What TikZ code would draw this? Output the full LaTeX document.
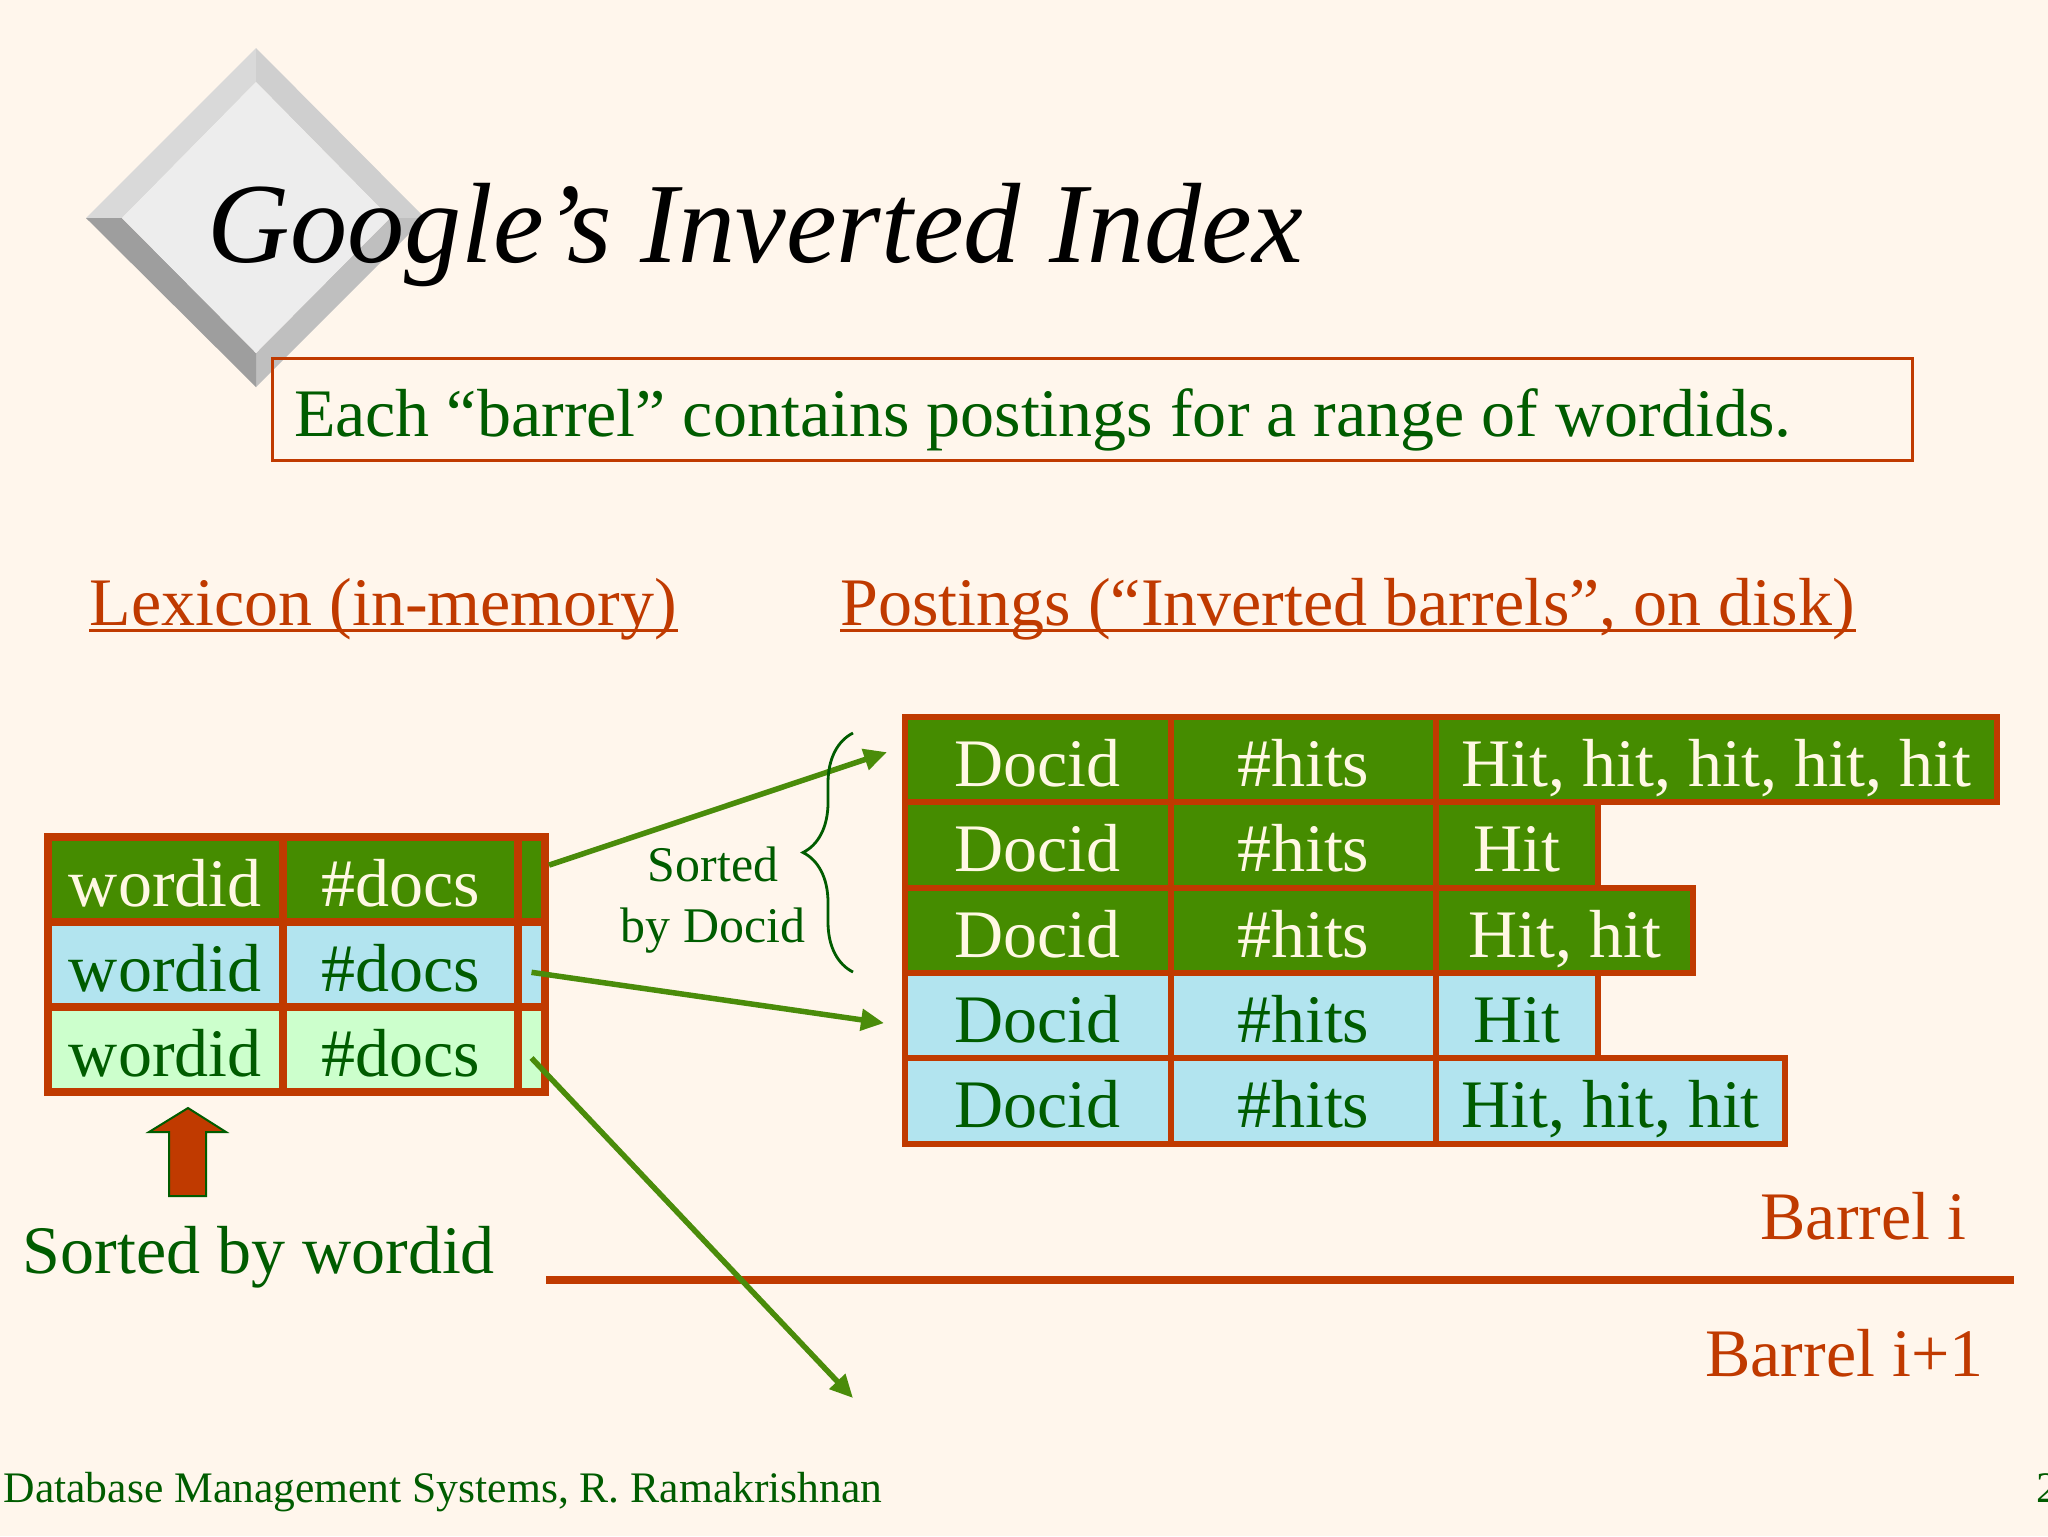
\documentclass[tikz,border=0pt]{standalone}
\usepackage{fontspec}
\setmainfont{Liberation Serif}
\usetikzlibrary{arrows.meta,decorations.pathreplacing}
\definecolor{bg}{HTML}{FFF6EC}
\definecolor{orb}{HTML}{C03A00}
\definecolor{dkg}{HTML}{005C00}
\definecolor{gfill}{HTML}{458C00}
\definecolor{lblue}{HTML}{B2E4EF}
\definecolor{lgreen}{HTML}{CCFFCC}
\definecolor{cream}{HTML}{FFF8E4}
\definecolor{arrowg}{HTML}{4A8C0A}
\newcommand\fsBig{\fontsize{19.35pt}{23pt}\selectfont}
\newcommand\fsTitle{\fontsize{32.5pt}{38pt}\selectfont\itshape}
\newcommand\fsSmall{\fontsize{14.2pt}{17.6pt}\selectfont}
\newcommand\fsFoot{\fontsize{12.4pt}{15pt}\selectfont}
\begin{document}
\begin{tikzpicture}[x=0.1mm,y=-0.1mm,
  txt/.style={inner sep=0pt,font=\fsBig},
  lcell/.style={draw=orb,line width=0.8mm,inner sep=0pt,minimum height=8.52mm,text height=15.3pt,text depth=0pt,font=\fsBig},
  dcell/.style={draw=orb,line width=0.6mm,inner sep=0pt,minimum height=8.53mm,text height=15.3pt,text depth=0pt,font=\fsBig},
  gcell/.style={fill=gfill,text=cream},
  bcell/.style={fill=lblue,text=dkg},
  lgcell/.style={fill=lgreen,text=dkg},
  ptr/.style={draw=arrowg,line width=0.55mm,-{Triangle[length=2.3mm,width=2.1mm]}},
]
% background
\useasboundingbox (0,0) rectangle (2048,1536);
\fill[bg] (0,0) rectangle (2048,1536);

% bevelled diamond
\fill[gray!30!white] (256,48) -- (256,82) -- (122,218) -- (86,218) -- cycle;
\fill[black!19] (256,48) -- (425,218) -- (390,218) -- (256,82) -- cycle;
\fill[black!25] (425,218) -- (256,387) -- (256,353) -- (390,218) -- cycle;
\fill[black!38] (86,218) -- (122,218) -- (256,353) -- (256,387) -- cycle;
\fill[black!7] (256,82) -- (390,218) -- (256,353) -- (122,218) -- cycle;

% title
\node[anchor=base west,inner sep=0pt,font=\fsTitle] (title) at (207,262) {Google’s Inverted Index};

% box
\node[draw=orb,line width=0.3mm,text=dkg,font=\fsBig,inner xsep=2.2mm,inner ysep=0pt,
      text width=159.6mm,align=flush left,minimum height=10.2mm,text height=15.9pt,text depth=0pt]
      (box) at (1092,409) {Each “barrel” contains postings for a range of wordids.};

% headings
\node[txt,anchor=base west,text=orb] (lex) at (89,625) {Lexicon (in-memory)};
\node[txt,anchor=base west,text=orb] (post) at (840,625) {Postings (“Inverted barrels”, on disk)};
\draw[orb,line width=0.3mm] ([yshift=-0.5mm]lex.base west) -- ([yshift=-0.5mm]lex.base east);
\draw[orb,line width=0.3mm] ([yshift=-0.5mm]post.base west) -- ([yshift=-0.5mm]post.base east);

% lexicon table
\node[lcell,gcell,minimum width=23.55mm] (l11) at (165.25,879.1) {wordid};
\node[lcell,gcell,minimum width=23.5mm] (l12) at (400.5,879.1) {\#docs};
\node[lcell,gcell,minimum width=2.7mm] (l13) at (531.5,879.1) {};
\node[lcell,bcell,minimum width=23.55mm] (l21) at (165.25,964.3) {wordid};
\node[lcell,bcell,minimum width=23.5mm] (l22) at (400.5,964.3) {\#docs};
\node[lcell,bcell,minimum width=2.7mm] (l23) at (531.5,964.3) {};
\node[lcell,lgcell,minimum width=23.55mm] (l31) at (165.25,1049.5) {wordid};
\node[lcell,lgcell,minimum width=23.5mm] (l32) at (400.5,1049.5) {\#docs};
\node[lcell,lgcell,minimum width=2.7mm] (l33) at (531.5,1049.5) {};

% postings table
\node[dcell,gcell,minimum width=26.55mm] (d11) at (1037.75,759.65) {Docid};
\node[dcell,gcell,minimum width=26.55mm] (d12) at (1303.25,759.65) {\#hits};
\node[dcell,gcell,minimum width=56.1mm] (d13) at (1716.5,759.65) {Hit, hit, hit, hit, hit};
\node[dcell,gcell,minimum width=26.55mm] (d21) at (1037.75,844.95) {Docid};
\node[dcell,gcell,minimum width=26.55mm] (d22) at (1303.25,844.95) {\#hits};
\node[dcell,gcell,minimum width=16.2mm] (d23) at (1517,844.95) {Hit};
\node[dcell,gcell,minimum width=26.55mm] (d31) at (1037.75,930.25) {Docid};
\node[dcell,gcell,minimum width=26.55mm] (d32) at (1303.25,930.25) {\#hits};
\node[dcell,gcell,minimum width=25.7mm] (d33) at (1564.5,930.25) {Hit, hit};
\node[dcell,bcell,minimum width=26.55mm] (d41) at (1037.75,1015.55) {Docid};
\node[dcell,bcell,minimum width=26.55mm] (d42) at (1303.25,1015.55) {\#hits};
\node[dcell,bcell,minimum width=16.2mm] (d43) at (1517,1015.55) {Hit};
\node[dcell,bcell,minimum width=26.55mm] (d51) at (1037.75,1100.85) {Docid};
\node[dcell,bcell,minimum width=26.55mm] (d52) at (1303.25,1100.85) {\#hits};
\node[dcell,bcell,minimum width=34.9mm] (d53) at (1610.5,1100.85) {Hit, hit, hit};

% barrel separator and labels
\coordinate (sepL) at (546,1280);
\coordinate (sepR) at (2014,1280);
\draw[orb,line width=0.8mm] (sepL) -- (sepR);
\node[txt,anchor=base east,text=orb] (bari) at (1967,1239) {Barrel i};
\node[txt,anchor=base east,text=orb] (barj) at (1984,1376) {Barrel i+1};

% pointers
\coordinate (a3end) at (853,1398);
\draw[ptr] ([yshift=1.4mm]l13.east) -- ([xshift=-1.5mm,yshift=0.75mm]d11.west);
\draw[ptr] ([yshift=-0.8mm]l23.center) -- ([xshift=-1.8mm,yshift=-0.75mm]d41.west);
\draw[ptr] ([yshift=-0.85mm]l33.center) -- (a3end);

% brace
\coordinate (brB) at (853,972);
\coordinate (brT) at (853,733);
\draw[dkg,line width=0.28mm,decorate,decoration={brace,amplitude=5mm}] (brB) -- (brT);
\node[inner sep=0pt,align=center,text=dkg,font=\fsSmall] (sdoc) at (713,900) {Sorted\\by Docid};

% up arrow and label
\draw[fill=orb,draw=dkg,line width=0.2mm] (169,1196) -- (169,1132) -- (149,1132) -- (188,1108) -- (226,1132) -- (206,1132) -- (206,1196) -- cycle;
\node[txt,anchor=base west,text=dkg] (sortw) at (22,1273) {Sorted by wordid};

% footer
\node[inner sep=0pt,anchor=base west,text=dkg,font=\fsFoot] (foot) at (3,1502) {Database Management Systems, R. Ramakrishnan};
\node[inner sep=0pt,anchor=base west,text=dkg,font=\fsFoot] (pnum) at (2036,1502) {2};
\end{tikzpicture}
\end{document}
